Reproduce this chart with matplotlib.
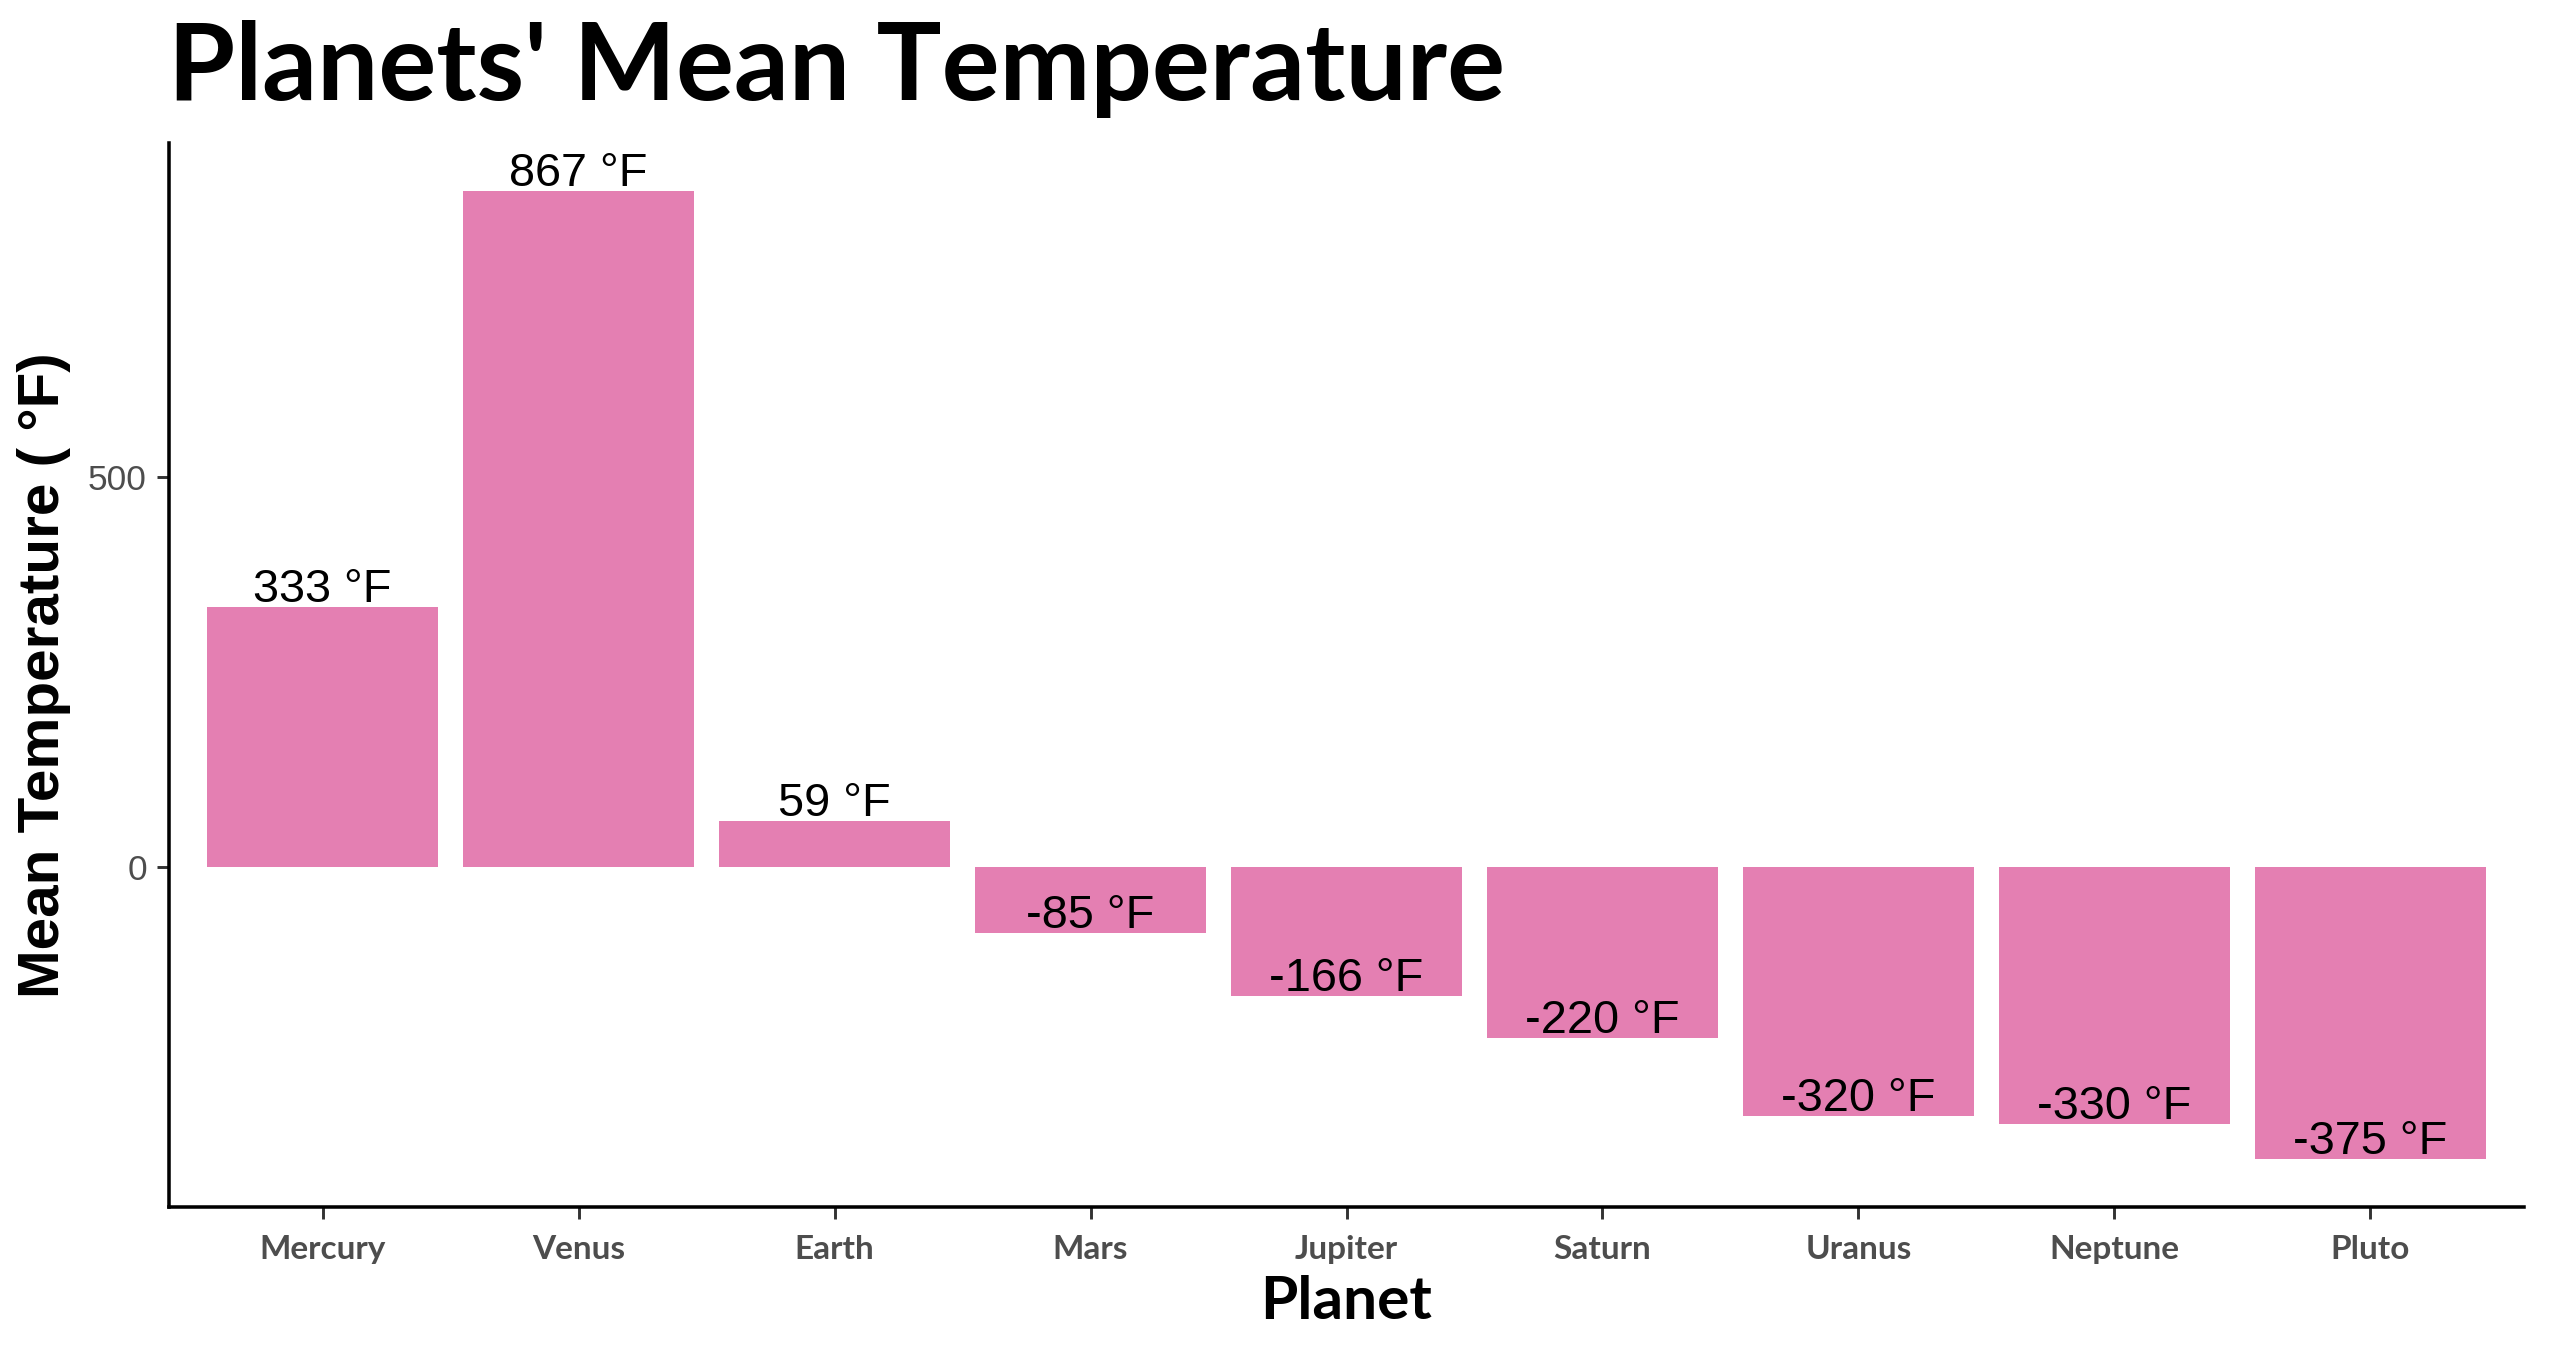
import matplotlib
matplotlib.use("Agg")
import matplotlib.pyplot as plt
import numpy as np

planets = ["Mercury", "Venus", "Earth", "Mars", "Jupiter", "Saturn", "Uranus", "Neptune", "Pluto"]
mean_temp_f = [333, 867, 59, -85, -166, -220, -320, -330, -375]

BAR_COLOR = "#E47FB2"
TICK_GRAY = "#4D4D4D"


def main():
	fig = plt.figure(figsize=(17, 9), dpi=150)
	ax = fig.add_axes([0.0663, 0.106, 0.9235, 0.788])

	x = np.arange(len(planets))
	ax.bar(x, mean_temp_f, width=0.9, color=BAR_COLOR, zorder=2)

	# baseline a few px above the bar end, like vjust = 0
	for xi, v in zip(x, mean_temp_f):
		ax.annotate(f"{v} \u00b0F", (xi, v), xytext=(0, 2.4), textcoords="offset points",
					ha="center", va="baseline", family="Liberation Sans", fontsize=22.5,
					color="black", zorder=3)

	# ggplot style expansion
	lo, hi = min(mean_temp_f), max(mean_temp_f)
	pad = (hi - lo) * 0.05
	ax.set_ylim(lo - pad, hi + pad)
	ax.set_xlim(-0.6, len(planets) - 0.4)

	ax.set_yticks([0, 500])
	ax.set_yticklabels(["0", "500"], family="Liberation Sans", fontsize=17, color=TICK_GRAY)
	ax.set_xticks(x)
	ax.set_xticklabels(planets, family="Lato", fontweight="bold", fontsize=16, color=TICK_GRAY)

	for side in ["top", "right"]:
		ax.spines[side].set_visible(False)
	for side in ["left", "bottom"]:
		ax.spines[side].set_linewidth(1.7)
		ax.spines[side].set_color("black")
	ax.tick_params(axis="both", length=5.6, width=1.4, color="#333333")
	ax.tick_params(axis="y", pad=5)
	ax.tick_params(axis="x", pad=8)

	ax.set_xlabel("Planet", family="Lato", fontweight="bold", fontsize=29, labelpad=5)
	ax.set_ylabel("Mean Temperature ( \u00b0F)", family="Liberation Sans", fontweight="bold",
				  fontsize=28, labelpad=8)

	fig.text(0.066, 0.949, "Planets' Mean Temperature", family="Lato", fontweight="bold",
			 fontsize=52, ha="left", va="center")

	fig.savefig("out.png", dpi=150, facecolor="white")


if __name__ == "__main__":
	main()
